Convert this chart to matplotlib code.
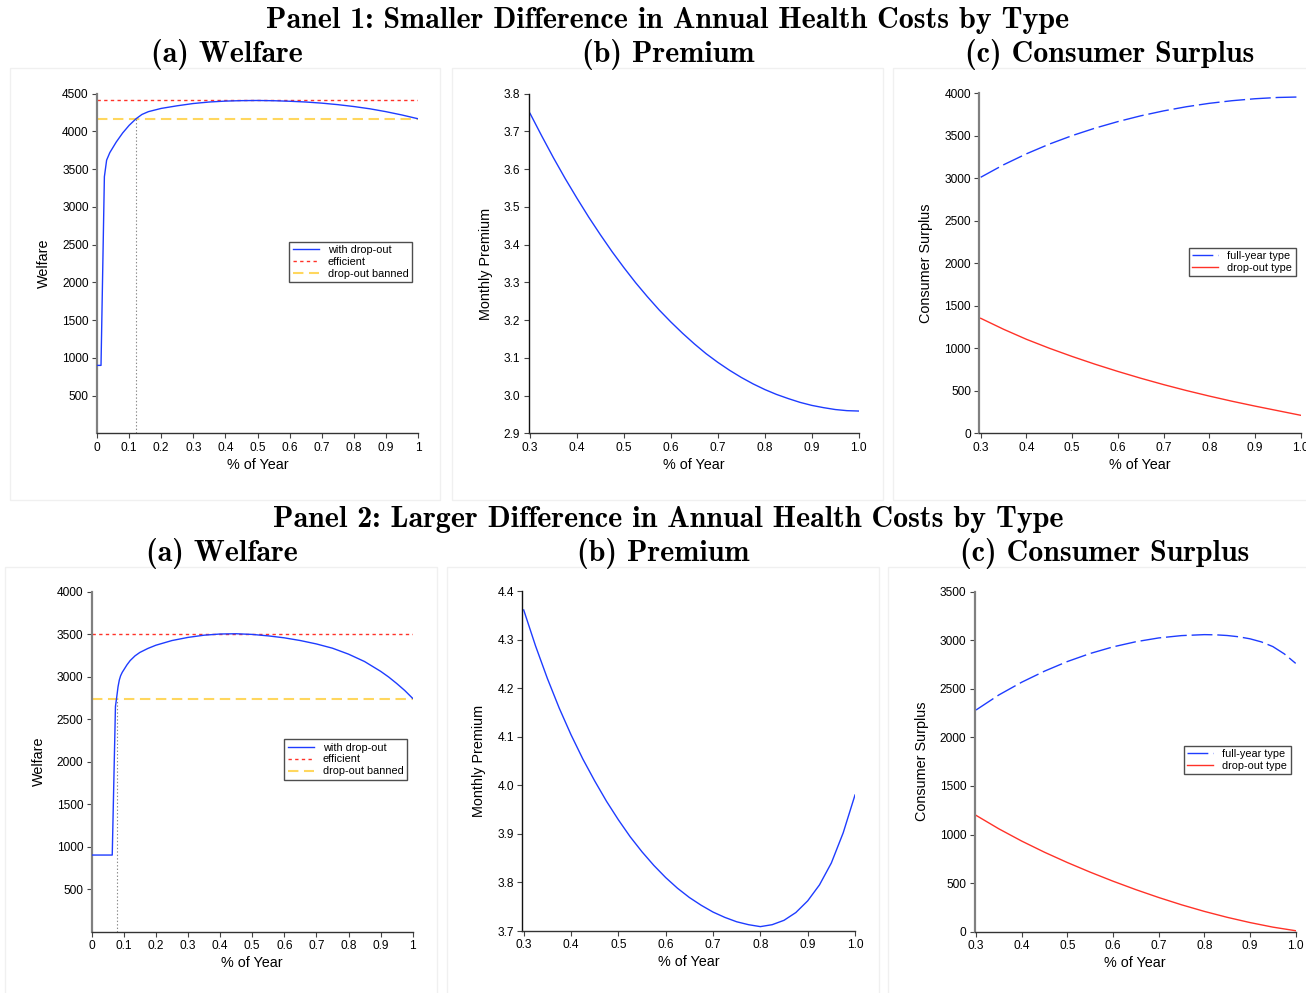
import matplotlib
matplotlib.use('Agg')
import matplotlib.pyplot as plt
from matplotlib.patches import Rectangle

plt.rcParams['lines.scale_dashes'] = False
plt.rcParams['font.family'] = ['Liberation Sans', 'DejaVu Sans']

# ---------------- data ----------------
# Panel 1 (a) Welfare
w1_x = [0, 0.0125, 0.023, 0.03, 0.04, 0.05, 0.06, 0.08, 0.10, 0.1216, 0.14, 0.16, 0.2,
        0.25, 0.3, 0.35, 0.4, 0.45, 0.5, 0.55, 0.6, 0.65, 0.7, 0.75, 0.8, 0.85, 0.9, 0.95, 1.0]
w1_y = [900, 900, 3400, 3620, 3720, 3790, 3860, 3980, 4080, 4168, 4225, 4262, 4305,
        4340, 4370, 4390, 4402, 4408, 4410, 4407, 4400, 4390, 4375, 4355, 4330, 4300, 4262, 4218, 4168]
w1_eff = 4410
w1_ban = 4168
w1_cut = 0.1216

# Panel 2 (a) Welfare
w2_x = [0, 0.064, 0.074, 0.078, 0.082, 0.086, 0.09, 0.095, 0.10, 0.11, 0.12, 0.135, 0.15,
        0.175, 0.2, 0.25, 0.3, 0.35, 0.4, 0.45, 0.5, 0.55, 0.6, 0.65, 0.7, 0.75, 0.8, 0.85,
        0.9, 0.925, 0.95, 0.975, 1.0]
w2_y = [900, 900, 2650, 2760, 2880, 2960, 3010, 3050, 3080, 3140, 3190, 3245, 3285,
        3332, 3370, 3425, 3462, 3488, 3502, 3505, 3497, 3480, 3457, 3425, 3385, 3335, 3265, 3178,
        3063, 2996, 2920, 2838, 2744]
w2_eff = 3505
w2_ban = 2740
w2_cut = 0.078

# (b) Premium
prem1_x = [0.3, 0.325, 0.35, 0.375, 0.4, 0.425, 0.45, 0.475, 0.5, 0.525, 0.55, 0.575, 0.6,
           0.625, 0.65, 0.675, 0.7, 0.725, 0.75, 0.775, 0.8, 0.825, 0.85, 0.875, 0.9,
           0.925, 0.95, 0.975, 1.0]
prem1 = [3.748, 3.688, 3.630, 3.575, 3.523, 3.473, 3.426, 3.381, 3.339, 3.299, 3.262,
         3.227, 3.195, 3.165, 3.137, 3.111, 3.088, 3.067, 3.048, 3.031, 3.016, 3.003,
         2.992, 2.982, 2.974, 2.968, 2.963, 2.960, 2.959]
prem2_x = [0.3, 0.325, 0.35, 0.375, 0.4, 0.425, 0.45, 0.475, 0.5, 0.525, 0.55, 0.575, 0.6,
           0.625, 0.65, 0.675, 0.7, 0.725, 0.75, 0.775, 0.8, 0.825, 0.85, 0.875, 0.9,
           0.925, 0.95, 0.975, 1.0]
prem2 = [4.361, 4.287, 4.220, 4.159, 4.104, 4.054, 4.009, 3.967, 3.929, 3.894, 3.863,
         3.835, 3.810, 3.788, 3.769, 3.753, 3.739, 3.728, 3.719, 3.713, 3.709, 3.713,
         3.722, 3.738, 3.762, 3.795, 3.840, 3.902, 3.980]

# (c) Consumer surplus
cs_x = [0.3, 0.35, 0.4, 0.45, 0.5, 0.55, 0.6, 0.65, 0.7, 0.75, 0.8, 0.85, 0.9, 0.95, 1.0]
cs1_full = [3012, 3159, 3288, 3402, 3502, 3590, 3667, 3735, 3793, 3842, 3882, 3913, 3936, 3951, 3957]
cs1_drop = [1353, 1224, 1106, 1001, 904, 813, 728, 648, 573, 503, 438, 377, 320, 266, 212]
cs2_full_x = [0.3, 0.35, 0.4, 0.45, 0.5, 0.55, 0.6, 0.65, 0.7, 0.75, 0.8, 0.825, 0.85,
              0.875, 0.9, 0.925, 0.95, 0.975, 1.0]
cs2_full = [2282, 2437, 2568, 2682, 2781, 2864, 2932, 2985, 3024, 3048, 3058, 3056, 3049,
            3036, 3015, 2983, 2935, 2860, 2762]
cs2_drop = [1198, 1059, 933, 818, 712, 613, 520, 433, 352, 277, 209, 148, 94, 47, 10]

panel_titles = ['Panel 1: Smaller Difference in Annual Health Costs by Type',
                'Panel 2: Larger Difference in Annual Health Costs by Type']
sub_titles = ['(a) Welfare', '(b) Premium', '(c) Consumer Surplus']
welfare_legend = ['with drop-out', 'efficient', 'drop-out banned']
cs_legend = ['full-year type', 'drop-out type']

# ---------------- style ----------------
BLUE = '#1e3cff'
RED = '#ff3228'
GOLD = '#ffd75e'
W, H = 1306, 993
fig = plt.figure(figsize=(W / 100, H / 100), dpi=100)


def add_axes(xd, xp, yd, yp, xlim, ylim):
    sx = (xp[1] - xp[0]) / (xd[1] - xd[0])
    lp = xp[0] + (xlim[0] - xd[0]) * sx
    rp = xp[0] + (xlim[1] - xd[0]) * sx
    sy = (yp[1] - yp[0]) / (yd[1] - yd[0])
    bp = yp[0] + (ylim[0] - yd[0]) * sy
    tp = yp[0] + (ylim[1] - yd[0]) * sy
    ax = fig.add_axes([lp / W, 1 - bp / H, (rp - lp) / W, (bp - tp) / H])
    ax.set_xlim(xlim)
    ax.set_ylim(ylim)
    return ax


def style(ax, lcol, llw):
    for s in ['top', 'right']:
        ax.spines[s].set_visible(False)
    ax.spines['left'].set_color(lcol)
    ax.spines['left'].set_linewidth(llw)
    ax.spines['bottom'].set_color('#333333')
    ax.spines['bottom'].set_linewidth(1.0)
    ax.tick_params(direction='out', length=3.5, width=0.8, color='#444444',
                   labelsize=8.6, pad=2.5)
    ax.set_xlabel('% of Year', fontsize=10.4, labelpad=3)


def legend(ax, x, y):
    leg = ax.legend(loc='upper left', bbox_to_anchor=(x / W, 1 - y / H),
                    bbox_transform=fig.transFigure, frameon=True, fancybox=False,
                    prop={'family': 'Liberation Sans', 'size': 7.8},
                    handlelength=2.4, handletextpad=0.85, borderpad=0.3,
                    labelspacing=0.18, borderaxespad=0)
    leg.get_frame().set_edgecolor('#222222')
    leg.get_frame().set_linewidth(1.0)
    return leg


# frames
for (x0, y0, x1, y1) in [(10, 68, 440, 500), (452, 68, 883, 500), (893, 68, 1330, 500),
                         (5, 567, 437, 1000), (447, 567, 879, 1000), (888, 567, 1330, 1000)]:
    fig.add_artist(Rectangle((x0 / W, 1 - y1 / H), (x1 - x0) / W, (y1 - y0) / H,
                             transform=fig.transFigure, fill=False, edgecolor='#f0f0f0', lw=1))

# titles
TF = 'cmb10'
TS = 21.6
fig.text(668 / W, 1 - 20 / H, panel_titles[0], ha='center', va='center', fontfamily=TF, fontsize=TS)
fig.text(668 / W, 1 - 519.5 / H, panel_titles[1], ha='center', va='center', fontfamily=TF, fontsize=TS)
for cx, cy, t in [(227, 54, sub_titles[0]), (668, 54, sub_titles[1]), (1110, 54, sub_titles[2]),
                  (222, 553.5, sub_titles[0]), (663, 553.5, sub_titles[1]), (1105, 553.5, sub_titles[2])]:
    fig.text(cx / W, 1 - cy / H, t, ha='center', va='center', fontfamily=TF, fontsize=TS)

wx_ticks = [i / 10 for i in range(11)]
wx_labels = ['0'] + ['%.1f' % (i / 10) for i in range(1, 10)] + ['1']
px_ticks = [0.3, 0.4, 0.5, 0.6, 0.7, 0.8, 0.9, 1.0]


def welfare(ax, xs, ys, eff, ban, cut, ymax):
    ax.plot(xs, ys, color=BLUE, lw=1.0, label=welfare_legend[0], zorder=4)
    ax.plot([0, 1], [eff, eff], color=RED, lw=1.0, ls=(0, (2.4, 2.4)), label=welfare_legend[1])
    ax.plot([0, 1], [ban, ban], color=GOLD, lw=1.5, ls=(0, (7.5, 4.0)), label=welfare_legend[2])
    ax.plot([cut, cut], [0, ban], color='#8a8a8a', lw=0.8, ls=(0, (1, 1.5)))
    ax.set_xticks(wx_ticks)
    ax.set_xticklabels(wx_labels)
    ax.set_yticks(list(range(500, ymax + 1, 500)))
    ax.set_ylabel('Welfare', fontsize=10.4, labelpad=8)
    style(ax, '#808080', 1.6)


# Panel 1 (a)
ax = add_axes((0, 1), (97, 418), (4500, 0), (93.7, 433.3), (0, 1), (0, 4500))
welfare(ax, w1_x, w1_y, w1_eff, w1_ban, w1_cut, 4500)
legend(ax, 289.3, 241.7)

# Panel 2 (a)
ax = add_axes((0, 1), (91.7, 412.7), (4000, 0), (591.7, 931.5), (0, 1), (0, 4000))
welfare(ax, w2_x, w2_y, w2_eff, w2_ban, w2_cut, 4000)
legend(ax, 284.3, 739.3)


def premium(ax, xs, ys, yticks):
    ax.plot(xs, ys, color=BLUE, lw=1.0)
    ax.set_xticks(px_ticks)
    ax.set_xticklabels(['%.1f' % v for v in px_ticks])
    ax.set_yticks(yticks)
    ax.set_yticklabels(['%.1f' % v for v in yticks])
    ax.set_ylabel('Monthly Premium', fontsize=10.4, labelpad=8)
    style(ax, '#111111', 1.0)


ax = add_axes((0.3, 1.0), (530, 858.7), (3.8, 2.9), (93.7, 433.3), (0.297, 1.0), (2.9, 3.8))
premium(ax, prem1_x, prem1, [2.9, 3.0, 3.1, 3.2, 3.3, 3.4, 3.5, 3.6, 3.7, 3.8])
ax = add_axes((0.3, 1.0), (523.7, 855), (4.4, 3.7), (591, 931), (0.297, 1.0), (3.7, 4.4))
premium(ax, prem2_x, prem2, [3.7, 3.8, 3.9, 4.0, 4.1, 4.2, 4.3, 4.4])


def surplus(ax, fx, full, dx, drop, ymax):
    ax.plot(fx, full, color=BLUE, lw=1.0, ls=(0, (15, 3.5)), label=cs_legend[0])
    ax.plot(dx, drop, color=RED, lw=1.0, label=cs_legend[1])
    ax.set_xticks(px_ticks)
    ax.set_xticklabels(['%.1f' % v for v in px_ticks])
    ax.set_yticks(list(range(0, ymax + 1, 500)))
    ax.set_ylabel('Consumer Surplus', fontsize=10.4, labelpad=8)
    style(ax, '#808080', 1.6)


ax = add_axes((0.3, 1.0), (980.7, 1300.7), (4000, 0), (93.3, 433.3), (0.297, 1.0), (0, 4000))
surplus(ax, cs_x, cs1_full, cs_x, cs1_drop, 4000)
legend(ax, 1189, 247.7)
ax = add_axes((0.3, 1.0), (976, 1295.7), (3500, 0), (591.7, 931.7), (0.297, 1.0), (0, 3500))
surplus(ax, cs2_full_x, cs2_full, cs_x, cs2_drop, 3500)
legend(ax, 1184, 745.7)

fig.savefig('out.png', dpi=100)
